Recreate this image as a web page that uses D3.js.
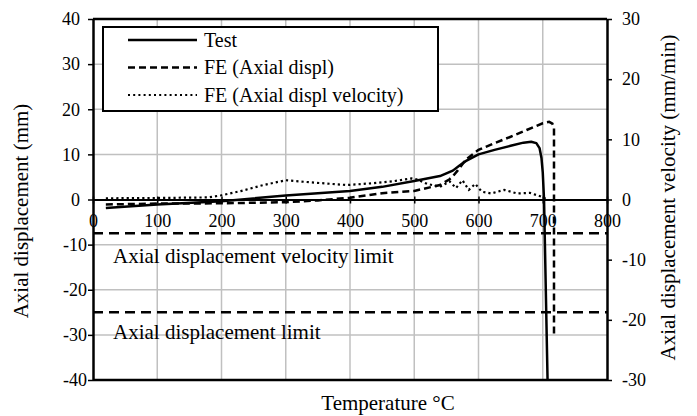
<!DOCTYPE html>
<html>
<head>
<meta charset="utf-8">
<script src="https://cdn.jsdelivr.net/npm/d3@7"></script>
<style>
  html, body { margin: 0; padding: 0; background: #fff; }
  svg { display: block; }
  text { font-family: "Liberation Serif", "Times New Roman", serif; fill: #000; }
</style>
</head>
<body>
<svg id="chart" width="697" height="416"></svg>
<script>
// ---------- DATA ----------
const xTicks = [0, 100, 200, 300, 400, 500, 600, 700, 800];
const yLeftTicks = [-40, -30, -20, -10, 0, 10, 20, 30, 40];
const yRightTicks = [-30, -20, -10, 0, 10, 20, 30];

// Test: temperature (°C), axial displacement (mm) — left axis
const testTemp = [20, 100, 200, 300, 400, 450, 500, 540, 560, 570, 580, 600, 625, 650, 670, 682, 690, 695, 698, 700, 702, 707.5];
const testDisp = [-1.9, -1.1, -0.4, 0.9, 1.9, 2.8, 4.1, 5.2, 6.4, 7.5, 8.5, 10.0, 11.0, 11.9, 12.6, 12.8, 12.5, 11.4, 9.2, 6.0, 0, -40];

// FE (Axial displ): temperature, displacement (mm) — left axis
const feTemp = [20, 100, 200, 300, 350, 400, 450, 500, 540, 555, 561, 568, 580, 600, 625, 650, 675, 700, 710, 715, 717.5, 717.5];
const feDisp = [-1.1, -0.9, -0.85, -0.6, -0.2, 0.4, 1.4, 1.9, 3.2, 4.5, 5.3, 6.5, 8.8, 11.0, 12.5, 13.9, 15.4, 16.9, 17.2, 16.8, 15.8, -30];

// FE (Axial displ velocity): temperature, velocity (mm/min) — right axis
const velTemp = [20, 100, 180, 200, 230, 265, 300, 345, 395, 435, 465, 496, 505, 520, 540, 555, 565, 575, 585, 595, 605, 620, 640, 660, 680, 697, 705];
const velVal = [0.2, 0.25, 0.35, 0.7, 1.4, 2.4, 3.2, 2.8, 2.4, 2.7, 3.0, 3.5, 3.3, 2.6, 2.1, 3.0, 1.9, 3.2, 1.6, 2.6, 1.3, 1.0, 1.6, 1.0, 1.1, 0.5, 0.1];

// Limits
const velocityLimit = -5.6;   // mm/min (right axis)
const displLimit = -25;       // mm (left axis)

const legendLabels = ["Test", "FE (Axial displ)", "FE (Axial displ velocity)"];
const limitLabels = ["Axial displacement velocity limit", "Axial displacement limit"];

// ---------- LAYOUT ----------
const L = 93, R = 607, T = 19, B = 380;
const svg = d3.select("#chart");
const fmt = d => String(d);

const x = d3.scaleLinear().domain([0, 800]).range([L, R]);
const yL = d3.scaleLinear().domain([-40, 40]).range([B, T]);
const yR = d3.scaleLinear().domain([-30, 30]).range([B, T]);

// clip
svg.append("defs").append("clipPath").attr("id", "clip")
  .append("rect").attr("x", L).attr("y", T).attr("width", R - L).attr("height", B - T);

// gridlines
const grid = svg.append("g");
grid.selectAll("line.v").data(xTicks.filter(d => d > 0 && d < 800)).join("line")
  .attr("x1", d => x(d)).attr("x2", d => x(d)).attr("y1", T).attr("y2", B)
  .attr("stroke", "#c0c0c0").attr("stroke-width", 1.5);
grid.selectAll("line.h").data(yLeftTicks.filter(d => d > -40 && d < 40 && d !== 0)).join("line")
  .attr("x1", L).attr("x2", R).attr("y1", d => yL(d)).attr("y2", d => yL(d))
  .attr("stroke", "#c0c0c0").attr("stroke-width", 1.5);

// x axis at zero
const xAxis = svg.append("g").attr("transform", `translate(0,${yL(0)})`)
  .call(d3.axisBottom(x).tickValues(xTicks).tickFormat(fmt).tickSizeInner(4).tickSizeOuter(0).tickPadding(11));
xAxis.select(".domain").attr("stroke", "#000").attr("stroke-width", 2);
xAxis.selectAll(".tick line").attr("stroke", "#000").attr("stroke-width", 1.5).attr("y1", -3);
xAxis.selectAll(".tick text").attr("font-size", 18);

// left axis
const yAxisL = svg.append("g").attr("transform", `translate(${L},0)`)
  .call(d3.axisLeft(yL).tickValues(yLeftTicks).tickFormat(fmt).tickSizeInner(5).tickSizeOuter(0).tickPadding(8));
yAxisL.select(".domain").attr("stroke", "#000").attr("stroke-width", 2.5);
yAxisL.selectAll(".tick line").attr("stroke", "#000").attr("stroke-width", 1.5);
yAxisL.selectAll(".tick text").attr("font-size", 18)
  .attr("x", d => d < 0 ? -6 : -13);

// right axis
const yAxisR = svg.append("g").attr("transform", `translate(${R},0)`)
  .call(d3.axisRight(yR).tickValues(yRightTicks).tickFormat(fmt).tickSizeInner(5).tickSizeOuter(0).tickPadding(10));
yAxisR.select(".domain").attr("stroke", "#000").attr("stroke-width", 2.5);
yAxisR.selectAll(".tick line").attr("stroke", "#000").attr("stroke-width", 1.5);
yAxisR.selectAll(".tick text").attr("font-size", 18);

// top and bottom border
svg.append("line").attr("x1", L).attr("x2", R).attr("y1", T).attr("y2", T)
  .attr("stroke", "#000").attr("stroke-width", 2.5);
svg.append("line").attr("x1", L).attr("x2", R).attr("y1", B).attr("y2", B)
  .attr("stroke", "#000").attr("stroke-width", 2.5);

// limit lines
const limits = svg.append("g");
limits.append("line").attr("x1", L).attr("x2", R)
  .attr("y1", yR(velocityLimit)).attr("y2", yR(velocityLimit))
  .attr("stroke", "#000").attr("stroke-width", 2.5).attr("stroke-dasharray", "10,6");
limits.append("line").attr("x1", L).attr("x2", R)
  .attr("y1", yL(displLimit)).attr("y2", yL(displLimit))
  .attr("stroke", "#000").attr("stroke-width", 2.5).attr("stroke-dasharray", "10,6");
limits.append("text").attr("x", 113).attr("y", yR(velocityLimit) + 30)
  .attr("font-size", 21).text(limitLabels[0]);
limits.append("text").attr("x", 113).attr("y", yL(displLimit) + 27)
  .attr("font-size", 21).text(limitLabels[1]);

// series
const plot = svg.append("g").attr("clip-path", "url(#clip)");
const lineL = d3.line().x(d => x(d[0])).y(d => yL(d[1]));
const lineR = d3.line().x(d => x(d[0])).y(d => yR(d[1]));

plot.append("path").datum(velTemp.map((t, i) => [t, velVal[i]]))
  .attr("d", lineR).attr("fill", "none").attr("stroke", "#000")
  .attr("stroke-width", 2.2).attr("stroke-dasharray", "2.2,3");
plot.append("path").datum(feTemp.map((t, i) => [t, feDisp[i]]))
  .attr("d", lineL).attr("fill", "none").attr("stroke", "#000")
  .attr("stroke-width", 2.5).attr("stroke-dasharray", "7,4");
plot.append("path").datum(testTemp.map((t, i) => [t, testDisp[i]]))
  .attr("d", lineL).attr("fill", "none").attr("stroke", "#000")
  .attr("stroke-width", 2.5).attr("stroke-linejoin", "round");

// legend
const lg = svg.append("g");
lg.append("rect").attr("x", 103).attr("y", 27).attr("width", 335).attr("height", 84)
  .attr("fill", "#fff").attr("stroke", "#000").attr("stroke-width", 2);
const dashes = [null, "7,4", "2,3.2"];
const widths = [2.5, 2.5, 2];
legendLabels.forEach((lab, i) => {
  const yy = 40 + i * 27.5;
  lg.append("line").attr("x1", 128).attr("x2", 197).attr("y1", yy).attr("y2", yy)
    .attr("stroke", "#000").attr("stroke-width", widths[i])
    .attr("stroke-dasharray", dashes[i]);
  lg.append("text").attr("x", 204).attr("y", yy + 6.5).attr("font-size", 20).text(lab);
});

// axis titles
svg.append("text").attr("transform", `translate(28,211) rotate(-90)`)
  .attr("text-anchor", "middle").attr("font-size", 21).text("Axial displacement (mm)");
svg.append("text").attr("transform", `translate(675,197.5) rotate(-90)`)
  .attr("text-anchor", "middle").attr("font-size", 21).text("Axial displacement velocity (mm/min)");
svg.append("text").attr("x", 388).attr("y", 410)
  .attr("text-anchor", "middle").attr("font-size", 21).text("Temperature °C");
</script>
</body>
</html>
